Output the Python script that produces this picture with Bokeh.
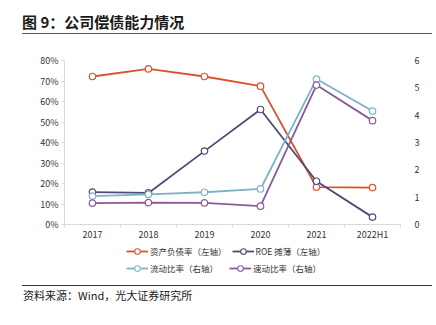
from bokeh.plotting import figure
from bokeh.models import (Range1d, LinearAxis, FixedTicker, Legend, LegendItem, Div)
from bokeh.layouts import column
from bokeh.embed import file_html
from bokeh.resources import INLINE

categories = ["2017", "2018", "2019", "2020", "2021", "2022H1"]
debt_ratio = [72.2, 75.9, 72.2, 67.5, 18.2, 18.0]      # 资产负债率 (%), left axis
roe_diluted = [15.8, 15.4, 35.8, 56.1, 21.1, 3.6]      # ROE 摊薄 (%), left axis
current_ratio = [1.04, 1.10, 1.18, 1.30, 5.32, 4.15]   # 流动比率, right axis
quick_ratio = [0.78, 0.80, 0.79, 0.67, 5.10, 3.80]     # 速动比率, right axis
left_ticks = [0, 10, 20, 30, 40, 50, 60, 70, 80]
right_ticks = [0, 1, 2, 3, 4, 5, 6]

names = ["资产负债率（左轴）", "ROE 摊薄（左轴）", "流动比率（右轴）", "速动比率（右轴）"]
colors = ["#d9532c", "#4f4a75", "#7fb2c9", "#8a5a96"]

FONT = "Noto Sans CJK SC"
xs = [i + 0.5 for i in range(len(categories))]

p = figure(width=436, height=204, output_backend="svg", toolbar_location=None,
           x_range=Range1d(0, len(categories)), y_range=Range1d(0, 80),
           min_border_top=20, min_border_left=64, min_border_right=36, min_border_bottom=20,
           outline_line_color=None, background_fill_color="white", border_fill_color="white")
p.extra_y_ranges = {"right": Range1d(0, 6)}
p.xgrid.visible = False
p.ygrid.visible = False

# x axis
xa = p.xaxis[0]
xa.ticker = FixedTicker(ticks=xs, minor_ticks=list(range(len(categories) + 1)))
xa.major_label_overrides = {x: c for x, c in zip(xs, categories)}
xa.major_tick_in = 0
xa.major_tick_out = 0
xa.minor_tick_in = 0
xa.minor_tick_out = 3
xa.minor_tick_line_color = "#d9d9d9"
xa.axis_line_color = "#d9d9d9"
xa.major_label_text_font = FONT
xa.major_label_text_font_size = "9px"
xa.major_label_text_color = "#333333"
xa.major_label_standoff = 0

# left axis
ya = p.yaxis[0]
ya.ticker = FixedTicker(ticks=left_ticks)
ya.major_label_overrides = {t: f"{t}%" for t in left_ticks}
ya.axis_line_color = "#d9d9d9"
ya.major_tick_line_color = "#d9d9d9"
ya.major_tick_in = 0
ya.major_tick_out = 3
ya.minor_tick_line_color = None
ya.major_label_text_font = FONT
ya.major_label_text_font_size = "9px"
ya.major_label_text_color = "#333333"
ya.major_label_standoff = 3

# right axis
ra = LinearAxis(y_range_name="right", ticker=FixedTicker(ticks=right_ticks))
ra.axis_line_color = None
ra.major_tick_line_color = None
ra.minor_tick_line_color = None
ra.major_label_text_font = FONT
ra.major_label_text_font_size = "9px"
ra.major_label_text_color = "#333333"
ra.major_label_standoff = 8
p.add_layout(ra, "right")

# legend strip: its own small figure so the legend is not clipped.
# Its ranges keep the series' own data out of view; only the legend shows.
lf = figure(width=436, height=41, output_backend="svg", toolbar_location=None,
            x_range=Range1d(-20, -19), y_range=Range1d(0, 80), min_border=0,
            x_axis_location=None, y_axis_location=None,
            outline_line_color=None, background_fill_color="white", border_fill_color="white")
lf.xgrid.visible = False
lf.ygrid.visible = False

series = [(debt_ratio, "default"), (roe_diluted, "default"),
          (current_ratio, "right"), (quick_ratio, "right")]
items = []
for (vals, rng), name, col in zip(series, names, colors):
    p.line(xs, vals, line_color=col, line_width=1.8, y_range_name=rng)
    p.scatter(xs, vals, size=6.5, marker="circle", fill_color="white",
              line_color=col, line_width=1.2, y_range_name=rng)
    ll = lf.line(xs, vals, line_color=col, line_width=1.8)
    lm = lf.scatter(xs, vals, size=5, marker="circle", fill_color="white",
                    line_color=col, line_width=1.1)
    items.append(LegendItem(label=name, renderers=[ll, lm]))

legend_style = dict(orientation="horizontal", border_line_color=None,
                    background_fill_alpha=0, label_text_font=FONT,
                    label_text_font_size="8.5px", label_text_color="#333333",
                    glyph_width=22, glyph_height=14, label_height=14,
                    label_standoff=2, label_width=74, spacing=5,
                    padding=0, margin=0)
leg1 = Legend(items=items[:2], location=(62, 27), **legend_style)
leg2 = Legend(items=items[2:], location=(62, 10), **legend_style)
lf.add_layout(leg1, "center")
lf.add_layout(leg2, "center")

top = Div(text="""<div style="position:relative;width:436px;height:40px;">
<div style="position:absolute;left:22px;top:13px;font-family:'Noto Sans CJK SC';font-weight:bold;font-size:15px;line-height:18px;color:#1a1a1a;white-space:nowrap;">图 9：公司偿债能力情况</div>
<div style="position:absolute;left:22px;top:33px;width:410px;height:0;border-top:1.5px solid #555555;"></div>
</div>""", width=436, height=40, margin=(0, 0, 0, 0))

bottom = Div(text="""<div style="position:relative;width:436px;height:40px;">
<div style="position:absolute;left:22px;top:0px;width:410px;height:0;border-top:1px solid #333333;"></div>
<div style="position:absolute;left:23px;top:2px;font-family:'Noto Sans CJK SC';font-size:11px;line-height:16px;color:#1a1a1a;white-space:nowrap;">资料来源：Wind，光大证券研究所</div>
</div>""", width=436, height=40, margin=(0, 0, 0, 0))

layout = column(top, p, lf, bottom, spacing=0)
open("out.html", "w").write(file_html(layout, INLINE))
